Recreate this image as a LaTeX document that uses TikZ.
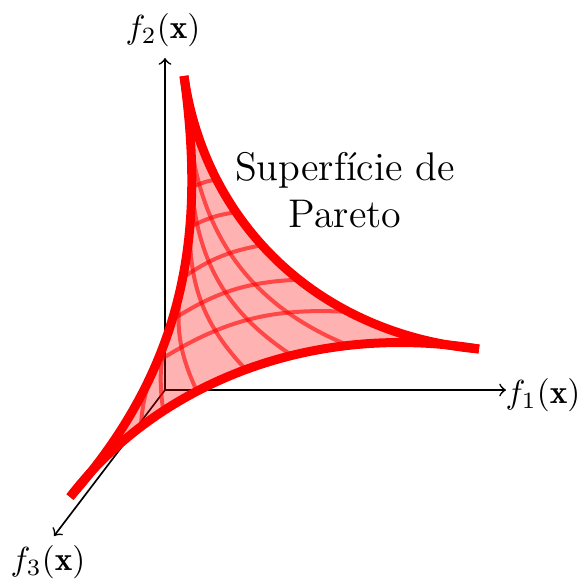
\documentclass[tikz,border=0pt]{standalone}
\usepackage{fontspec}
\begin{document}
\begin{tikzpicture}[x=0.3pt,y=-0.3pt,
  axis/.style={line width=0.5pt,black,->},
  bound/.style={line width=2.7pt,red,line cap=butt},
  meshline/.style={line width=1.2pt,red,opacity=0.6},
  lab/.style={inner sep=0pt}]
\useasboundingbox (0,0) rectangle (579,580);
% axes
\coordinate (O) at (165,390);
\coordinate (X) at (506,390);
\coordinate (Y) at (165,58);
\coordinate (Z) at (54,536);
\draw[axis] (O) -- (X);
\draw[axis] (O) -- (Y);
\draw[axis] (O) -- (Z);
\node[lab] (lx) at (543,395) {$f_1(\mathbf{x})$};
\node[lab] (ly) at (163,30) {$f_2(\mathbf{x})$};
\node[lab] (lz) at (48,562) {$f_3(\mathbf{x})$};
% surface corners and controls
\coordinate (T) at (184,76);
\coordinate (R) at (479,349);
\coordinate (B) at (70,497);
\coordinate (u1) at (205,225);
\coordinate (u2) at (320,335);
\coordinate (l1) at (203,216);
\coordinate (l2) at (195,356);
\coordinate (w1) at (150,392);
\coordinate (w2) at (300,320);
\fill[red,fill opacity=0.3] (T) .. controls (u1) and (u2) .. (R)
  .. controls (w2) and (w1) .. (B) .. controls (l2) and (l1) .. (T);
% points on the boundaries where the mesh lines end
\path (T) .. controls (l1) and (l2) .. (B)
  coordinate[pos=0.157] (L1) coordinate[pos=0.265] (L2)
  coordinate[pos=0.36] (L3) coordinate[pos=0.48] (L4)
  coordinate[pos=0.58] (L5) coordinate[pos=0.68] (L6);
\path (T) .. controls (u1) and (u2) .. (R)
  coordinate[pos=0.14] (U1) coordinate[pos=0.25] (U2)
  coordinate[pos=0.34] (U3) coordinate[pos=0.44] (U4)
  coordinate[pos=0.56] (U5) coordinate[pos=0.70] (U6);
\path (B) .. controls (w1) and (w2) .. (R)
  coordinate[pos=0.745] (W1) coordinate[pos=0.625] (W2)
  coordinate[pos=0.52] (W3) coordinate[pos=0.40] (W4)
  coordinate[pos=0.31] (W5) coordinate[pos=0.245] (W6);
% mesh family 1: left curve to upper curve
\draw[meshline] (L1) to (U1);
\draw[meshline] (L2) to[bend left=8] (U2);
\draw[meshline] (L3) to[bend left=10] (U3);
\draw[meshline] (L4) to[bend left=12] (U4);
\draw[meshline] (L5) to[bend left=15] (U5);
\draw[meshline] (L6) to[bend left=18] (U6);
% mesh family 2: left curve to lower curve
\draw[meshline] (L1) to[bend right=30] (W1);
\draw[meshline] (L2) to[bend right=26] (W2);
\draw[meshline] (L3) to[bend right=22] (W3);
\draw[meshline] (L4) to[bend right=18] (W4);
\draw[meshline] (L5) to[bend right=14] (W5);
\draw[meshline] (L6) to[bend right=10] (W6);
% boundaries
\draw[bound] (T) .. controls (u1) and (u2) .. (R);
\draw[bound] (T) .. controls (l1) and (l2) .. (B);
\draw[bound] (B) .. controls (w1) and (w2) .. (R);
\node[align=center,font=\large,inner sep=0pt] (title) at (345,190) {Superfície de\\Pareto};
\end{tikzpicture}
\end{document}
